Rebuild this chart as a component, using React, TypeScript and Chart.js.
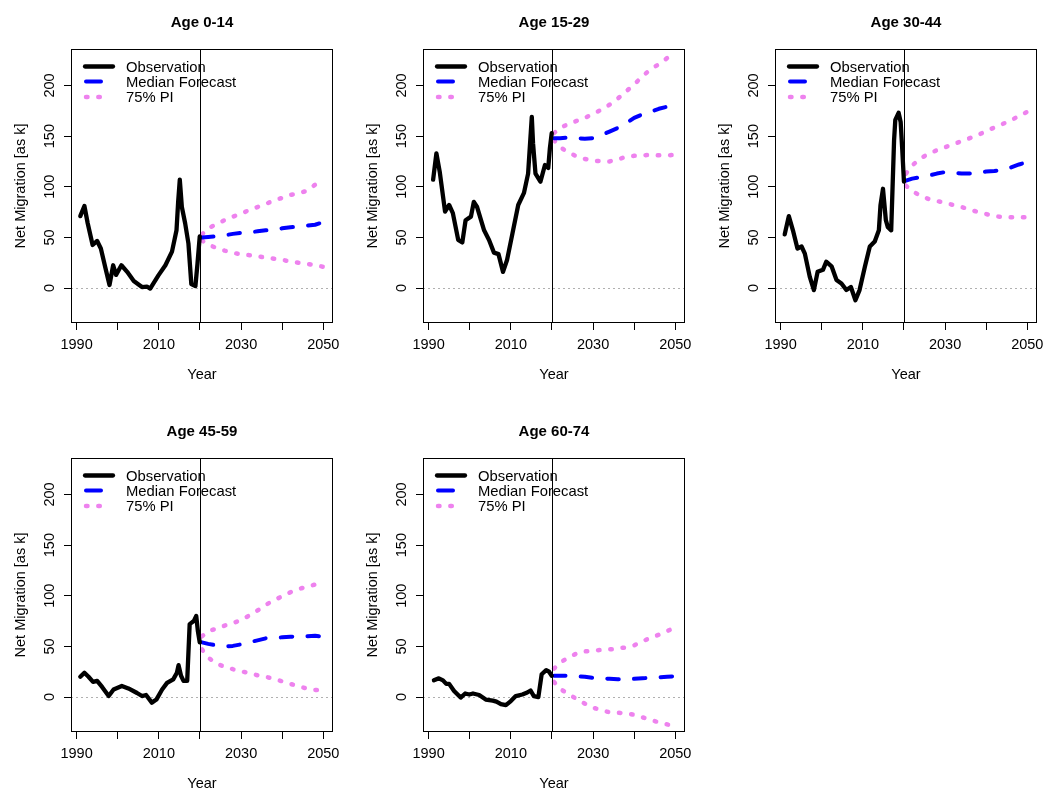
import React, { useEffect, useRef } from "react";
import { Chart, registerables } from "chart.js";

Chart.register(...registerables);

// ---------------- data ----------------
const panelTitles = ["Age 0-14", "Age 15-29", "Age 30-44", "Age 45-59", "Age 60-74"];
const legendLabels = ["Observation", "Median Forecast", "75% PI"];
const xTickValues = [1990, 2000, 2010, 2020, 2030, 2040, 2050];
const xTickLabels = ["1990", "", "2010", "", "2030", "", "2050"];
const yTickValues = [0, 50, 100, 150, 200];
const cutYear = 2020;
const xRange = [1988.64, 2052.36];
const yRange = [-34.5, 236];

const obsYears014 = [1990.9, 1991.9, 1992.7, 1993.9, 1995.0, 1995.9, 1997.0, 1998.0, 1998.9, 1999.6, 2000.9, 2002.3, 2003.9, 2005.9, 2007.1, 2007.9, 2009.9, 2011.6, 2013.2, 2014.3, 2014.7, 2015.1, 2015.6, 2016.4, 2017.2, 2017.9, 2018.9, 2019.4, 2019.95];
const obsValues014 = [71, 81, 64, 42.5, 46.5, 39, 20, 3, 22.5, 13, 22.5, 16, 7, 1, 1.5, -0.5, 12.5, 22.5, 36, 57, 85, 107, 80, 64, 44, 4, 2, 24, 51];

const obsYears1529 = [1991.1, 1991.9, 1992.7, 1994.0, 1995.0, 1995.9, 1997.2, 1998.2, 1999.0, 2000.3, 2001.0, 2001.8, 2003.5, 2004.7, 2005.9, 2007.0, 2008.1, 2009.1, 2010.4, 2011.8, 2013.2, 2014.2, 2015.1, 2015.4, 2016.0, 2017.2, 2018.3, 2019.1, 2019.5, 2019.95];
const obsValues1529 = [107, 133, 115, 75.5, 82, 74, 47.5, 45, 67, 70.5, 85, 80, 57, 47.5, 35, 33.5, 16, 28, 54, 82, 94, 113, 169, 143, 113, 105, 121.5, 118.5, 138, 153];

const obsYears3044 = [1991.0, 1992.0, 1993.0, 1994.1, 1995.1, 1995.9, 1997.1, 1998.1, 1999.0, 2000.3, 2001.1, 2002.4, 2003.6, 2004.8, 2006.0, 2007.1, 2008.2, 2009.2, 2010.5, 2011.7, 2012.9, 2013.9, 2014.3, 2014.9, 2015.6, 2016.1, 2016.9, 2017.6, 2017.9, 2018.7, 2019.2, 2019.6, 2020.0];
const obsValues3044 = [53, 71, 57, 39, 41, 34, 11, -2, 16, 18, 26, 21.5, 8, 4.5, -2, 1, -12, -2, 21, 41, 46, 57, 82, 98, 67, 60, 57, 146, 166, 173, 164, 136, 105];

const obsYears4559 = [1990.9, 1991.9, 1992.9, 1994.0, 1995.0, 1996.2, 1997.8, 1999.0, 2001.0, 2002.6, 2004.7, 2005.9, 2006.9, 2008.3, 2009.4, 2010.8, 2012.0, 2013.5, 2014.4, 2014.8, 2015.4, 2016.0, 2016.9, 2017.5, 2018.5, 2019.1, 2019.5, 2019.95];
const obsValues4559 = [20, 24, 20, 15, 16, 10, 1, 7.5, 11, 8.5, 4, 1, 2, -5.5, -2.5, 7.5, 14, 17.5, 24, 31.5, 21, 16, 16, 72, 75, 80, 65, 54];

const obsYears6074 = [1991.3, 1992.5, 1993.5, 1994.3, 1995.0, 1996.2, 1997.8, 1998.9, 1999.9, 2000.8, 2002.3, 2003.9, 2005.6, 2006.5, 2007.6, 2008.8, 2010.0, 2011.2, 2012.8, 2014.0, 2014.8, 2015.6, 2016.7, 2017.5, 2018.6, 2019.3, 2019.95];
const obsValues6074 = [16.5, 18.5, 16.5, 13, 13, 6, -0.5, 3.5, 2.5, 3.5, 2, -2.5, -3.5, -4.5, -7, -8, -4, 1, 2.5, 4.5, 6.5, 1, 0, 22.5, 26.5, 25, 21];

const forecastYears = [2020.5, 2022, 2024, 2026, 2028, 2030, 2032, 2034, 2036, 2038, 2040, 2042, 2044, 2046, 2048, 2050];

const median014 = [50, 50.5, 51, 52, 53.5, 54.5, 55, 56, 57, 57.5, 59, 60, 60.5, 61.5, 62.5, 65];
const upper014 = [53, 59, 63, 67, 70.5, 73.5, 77, 80, 83, 86.5, 89, 92, 93.5, 96, 102, 106];
const lower014 = [47, 43, 39.5, 37, 35, 33, 32.5, 31.5, 30, 29, 28, 26, 25, 24, 22.5, 21];

const median1529 = [148, 148, 148.5, 148, 147.5, 148, 151, 154.5, 158, 162.5, 168, 171.5, 174, 177, 179, 181];
const upper1529 = [153, 158, 162, 165, 168, 172, 176, 181, 187, 194, 201, 209, 216, 221, 227, 231];
const lower1529 = [146, 139, 134, 130, 127.5, 126, 125, 125, 127, 129.5, 130.5, 131, 131.5, 131, 131, 131.5];

const median3044 = [106, 108, 109.5, 111, 113, 114.5, 114, 113, 113, 114, 115, 115.5, 116.5, 119, 122, 124.5];
const upper3044 = [113, 121, 128, 132.5, 136, 139, 142, 145, 148, 151, 155, 158.5, 162, 165.5, 170, 174];
const lower3044 = [101, 96, 91, 88, 86, 84, 82, 80, 77.5, 75, 73, 71, 70, 70, 70, 70];

const median4559 = [54, 52.5, 51, 50, 50.5, 52, 54, 56, 58, 58.5, 59, 59.5, 60, 60, 60.5, 59.5];
const upper4559 = [60, 65, 67.5, 70.5, 73, 76, 80.5, 85.5, 91, 95.5, 99.5, 103.5, 106.5, 109, 111, 112];
const lower4559 = [47, 39, 33, 30, 27.5, 25.5, 23.5, 21.5, 20, 18, 15.5, 13, 10.5, 8.5, 7, 6.5];

const median6074 = [21, 21, 21, 20.5, 20, 19, 18.5, 18, 17.5, 17.5, 18, 18.5, 19, 19.5, 20, 20.5];
const upper6074 = [28, 34, 39, 43, 45, 46, 46.5, 47, 48, 49, 51, 55, 58.5, 61.5, 65, 69];
const lower6074 = [15, 8, 3, -2, -6.5, -10.5, -13, -15, -15.5, -16, -17.5, -20, -22.5, -25, -27, -29];

// ---------------- styling / layout ----------------
const FONT = '"Liberation Sans", Arial, Helvetica, sans-serif';
const FS = 14.5;
const OBS_COLOR = "#000000";
const MED_COLOR = "#0000FF";
const PI_COLOR = "#EE82EE";
const MED_DASH = [11.5, 15.2];
const PI_DASH = [1.5, 10.8];

const PAD_LEFT = 71;
const PAD_TOP = 49;
const PAD_RIGHT = 8;
const PAD_BOTTOM = 60;
const PLOT_W = 262;
const PLOT_H = 274;
const CW = PLOT_W + PAD_LEFT + PAD_RIGHT;
const CH = PLOT_H + PAD_TOP + PAD_BOTTOM;

const panels = [
  { title: panelTitles[0], left: 0, top: 0, obsX: obsYears014, obsY: obsValues014, med: median014, up: upper014, lo: lower014 },
  { title: panelTitles[1], left: 352, top: 0, obsX: obsYears1529, obsY: obsValues1529, med: median1529, up: upper1529, lo: lower1529 },
  { title: panelTitles[2], left: 704, top: 0, obsX: obsYears3044, obsY: obsValues3044, med: median3044, up: upper3044, lo: lower3044 },
  { title: panelTitles[3], left: 0, top: 409, obsX: obsYears4559, obsY: obsValues4559, med: median4559, up: upper4559, lo: lower4559 },
  { title: panelTitles[4], left: 352, top: 409, obsX: obsYears6074, obsY: obsValues6074, med: median6074, up: upper6074, lo: lower6074 },
];

function toPoints(xs: number[], ys: number[]) {
  return xs.map((x, i) => ({ x, y: ys[i] }));
}

function makeDecor(title: string) {
  return {
    id: "rDecor",
    beforeDatasetsDraw(chart: any) {
      const { ctx, chartArea: a, scales } = chart;
      const y0 = Math.round(scales.y.getPixelForValue(0)) + 0.5;
      ctx.save();
      ctx.strokeStyle = "#b0b0b0";
      ctx.lineWidth = 1;
      ctx.setLineDash([2, 3]);
      ctx.beginPath();
      ctx.moveTo(a.left, y0);
      ctx.lineTo(a.right, y0);
      ctx.stroke();
      ctx.restore();
    },
    afterDatasetsDraw(chart: any) {
      const { ctx, chartArea: a, scales } = chart;
      const xc = Math.round(scales.x.getPixelForValue(cutYear)) + 0.5;
      ctx.save();
      ctx.strokeStyle = "#000";
      ctx.lineWidth = 1;
      ctx.beginPath();
      ctx.moveTo(xc, a.top);
      ctx.lineTo(xc, a.bottom);
      ctx.stroke();
      ctx.restore();
    },
    afterDraw(chart: any) {
      const { ctx, chartArea: a, scales } = chart;
      ctx.save();
      // box
      ctx.strokeStyle = "#000";
      ctx.lineWidth = 1;
      ctx.setLineDash([]);
      ctx.strokeRect(a.left + 0.5, a.top + 0.5, a.right - a.left - 1, a.bottom - a.top - 1);

      ctx.fillStyle = "#000";
      ctx.font = `${FS}px ${FONT}`;
      ctx.textAlign = "center";
      ctx.textBaseline = "middle";
      // x tick labels
      xTickValues.forEach((v, i) => {
        if (!xTickLabels[i]) return;
        ctx.fillText(xTickLabels[i], scales.x.getPixelForValue(v), a.bottom + 22);
      });
      // y tick labels (rotated, as in R)
      yTickValues.forEach((v) => {
        const py = scales.y.getPixelForValue(v);
        ctx.save();
        ctx.translate(a.left - 21.5, py);
        ctx.rotate(-Math.PI / 2);
        ctx.fillText(String(v), 0, 0);
        ctx.restore();
      });
      // y title
      ctx.save();
      ctx.translate(a.left - 50.5, (a.top + a.bottom) / 2);
      ctx.rotate(-Math.PI / 2);
      ctx.fillText("Net Migration [as k]", 0, 0);
      ctx.restore();
      // x title
      ctx.fillText("Year", (a.left + a.right) / 2, a.bottom + 52);
      // main title
      ctx.font = `bold 15px ${FONT}`;
      ctx.fillText(title, (a.left + a.right) / 2, a.top - 26.5);

      // legend
      const L = a.left;
      const T = a.top;
      ctx.lineCap = "round";
      ctx.strokeStyle = OBS_COLOR;
      ctx.lineWidth = 4.3;
      ctx.beginPath();
      ctx.moveTo(L + 14, T + 17.5);
      ctx.lineTo(L + 42, T + 17.5);
      ctx.stroke();

      ctx.strokeStyle = MED_COLOR;
      ctx.lineWidth = 4;
      ctx.beginPath();
      ctx.moveTo(L + 15, T + 32.5);
      ctx.lineTo(L + 30, T + 32.5);
      ctx.stroke();

      ctx.strokeStyle = PI_COLOR;
      ctx.lineWidth = 4.5;
      ctx.setLineDash(PI_DASH);
      ctx.beginPath();
      ctx.moveTo(L + 15, T + 48);
      ctx.lineTo(L + 31, T + 48);
      ctx.stroke();
      ctx.setLineDash([]);

      ctx.font = `${FS + 0.3}px ${FONT}`;
      ctx.textAlign = "left";
      ctx.fillStyle = "#000";
      ctx.fillText(legendLabels[0], L + 55, T + 18.5);
      ctx.fillText(legendLabels[1], L + 55, T + 33.5);
      ctx.fillText(legendLabels[2], L + 55, T + 49);
      ctx.restore();
    },
  };
}

function Panel({ p }: { p: (typeof panels)[number] }) {
  const ref = useRef<HTMLCanvasElement | null>(null);
  useEffect(() => {
    const canvas = ref.current;
    if (!canvas) return;
    const chart = new Chart(canvas, {
      type: "line",
      data: {
        datasets: [
          {
            label: legendLabels[0],
            data: toPoints(p.obsX, p.obsY),
            borderColor: OBS_COLOR,
            borderWidth: 4.3,
            pointRadius: 0,
            borderCapStyle: "round",
            borderJoinStyle: "round",
            tension: 0,
            fill: false,
          },
          {
            label: legendLabels[1],
            data: toPoints(forecastYears, p.med),
            borderColor: MED_COLOR,
            borderWidth: 4,
            borderDash: MED_DASH,
            borderCapStyle: "round",
            borderJoinStyle: "round",
            pointRadius: 0,
            tension: 0,
            fill: false,
          },
          {
            label: legendLabels[2],
            data: toPoints(forecastYears, p.up),
            borderColor: PI_COLOR,
            borderWidth: 4.5,
            borderDash: PI_DASH,
            borderCapStyle: "round",
            pointRadius: 0,
            tension: 0,
            fill: false,
          },
          {
            label: legendLabels[2] + " (lower)",
            data: toPoints(forecastYears, p.lo),
            borderColor: PI_COLOR,
            borderWidth: 4.5,
            borderDash: PI_DASH,
            borderCapStyle: "round",
            pointRadius: 0,
            tension: 0,
            fill: false,
          },
        ],
      },
      options: {
        animation: false,
        responsive: false,
        devicePixelRatio: 1,
        events: [],
        layout: {
          autoPadding: false,
          padding: { left: 0, top: PAD_TOP, right: PAD_RIGHT, bottom: 0 },
        },
        plugins: {
          legend: { display: false },
          tooltip: { enabled: false },
          title: { display: false },
        },
        scales: {
          x: {
            type: "linear",
            min: xRange[0],
            max: xRange[1],
            afterBuildTicks: (s: any) => {
              s.ticks = xTickValues.map((v) => ({ value: v }));
            },
            afterFit: (s: any) => {
              s.height = PAD_BOTTOM;
            },
            grid: { drawOnChartArea: false, drawTicks: true, tickLength: 7, color: "#000", lineWidth: 1 },
            border: { display: false },
            ticks: { display: false },
          },
          y: {
            type: "linear",
            min: yRange[0],
            max: yRange[1],
            afterBuildTicks: (s: any) => {
              s.ticks = yTickValues.map((v) => ({ value: v }));
            },
            afterFit: (s: any) => {
              s.width = PAD_LEFT;
            },
            grid: { drawOnChartArea: false, drawTicks: true, tickLength: 7, color: "#000", lineWidth: 1 },
            border: { display: false },
            ticks: { display: false },
          },
        },
      },
      plugins: [makeDecor(p.title)],
    } as any);
    return () => chart.destroy();
  }, [p]);
  return (
    <canvas
      ref={ref}
      width={CW}
      height={CH}
      style={{ position: "absolute", left: p.left, top: p.top, width: CW, height: CH, display: "block" }}
    />
  );
}

export default function App() {
  return (
    <div style={{ position: "absolute", left: 0, top: 0, width: 1045, height: 792, background: "#fff", overflow: "hidden" }}>
      {panels.map((p) => (
        <Panel key={p.title} p={p} />
      ))}
    </div>
  );
}
